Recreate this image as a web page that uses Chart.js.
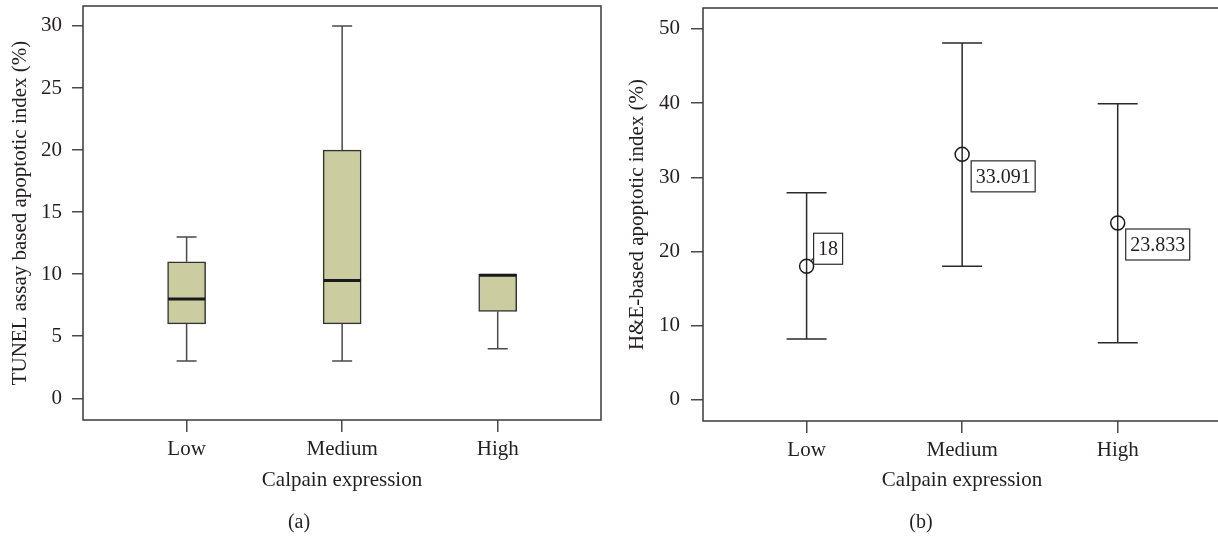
<!DOCTYPE html>
<html>
<head>
<meta charset="utf-8">
<script src="https://cdn.jsdelivr.net/npm/chart.js@4.4.1/dist/chart.umd.min.js"></script>
<style>
    html, body { margin: 0; padding: 0; background: #fff; overflow: hidden; }
    body { width: 1218px; height: 540px; position: relative; }
    canvas { position: absolute; top: 0; }
    #boxChart { left: 0; }
    #meanChart { left: 603px; }
    .caption { position: absolute; top: 510px; font: 20px 'Liberation Serif'; color: #231f20; transform: translateX(-50%); }
</style>
</head>
<body>
<canvas id="boxChart" width="603" height="540"></canvas>
<canvas id="meanChart" width="620" height="540"></canvas>
<div class="caption" style="left:299px">(a)</div>
<div class="caption" style="left:921px">(b)</div>
<script>
const categories = ['Low', 'Medium', 'High'];

// (a) TUNEL assay box plot
const tunelMin = [3, 3, 4];
const tunelQ1 = [6, 6, 7];
const tunelMedian = [8, 9.5, 10];
const tunelQ3 = [11, 20, 10];
const tunelMax = [13, 30, 10];
const tunelTicks = [0, 5, 10, 15, 20, 25, 30];

// (b) H&E mean with error bars
const heMean = [18, 33.091, 23.833];
const heLower = [8.2, 18.0, 7.7];
const heUpper = [27.9, 48.1, 39.9];
const heLabels = ['18', '33.091', '23.833'];
const heTicks = [0, 10, 20, 30, 40, 50];

const ink = '#231f20';
const lineGrey = '#4a4a4a';
Chart.defaults.font.family = "'Liberation Serif', 'DejaVu Serif', serif";
Chart.defaults.font.size = 21;
Chart.defaults.color = ink;

// frame round the plot area
const framePlugin = {
    id: 'frame',
    afterDraw(chart) {
        const {ctx, chartArea: a} = chart;
        ctx.save();
        ctx.strokeStyle = '#3a3a3a';
        ctx.lineWidth = 1.5;
        ctx.strokeRect(a.left, a.top, a.right - a.left, a.bottom - a.top);
        ctx.restore();
    }
};

// whiskers and medians for the box plot
const boxPlugin = {
    id: 'boxParts',
    beforeDatasetsDraw(chart) {
        const {ctx, scales: {x, y}} = chart;
        ctx.save();
        ctx.strokeStyle = lineGrey;
        ctx.lineWidth = 1.5;
        categories.forEach((c, i) => {
            const px = x.getPixelForValue(i);
            const segs = [[tunelQ3[i], tunelMax[i]], [tunelQ1[i], tunelMin[i]]];
            segs.forEach(([from, to]) => {
                if (from === to) return;
                ctx.beginPath();
                ctx.moveTo(px, y.getPixelForValue(from));
                ctx.lineTo(px, y.getPixelForValue(to));
                ctx.moveTo(px - 10, y.getPixelForValue(to));
                ctx.lineTo(px + 10, y.getPixelForValue(to));
                ctx.stroke();
            });
        });
        ctx.restore();
    },
    afterDatasetsDraw(chart) {
        const {ctx, scales: {x, y}} = chart;
        ctx.save();
        ctx.strokeStyle = '#1a1a1a';
        ctx.lineWidth = 3;
        categories.forEach((c, i) => {
            const px = x.getPixelForValue(i);
            let py = y.getPixelForValue(tunelMedian[i]);
            if (tunelMedian[i] === tunelQ3[i]) py += 1;
            ctx.beginPath();
            ctx.moveTo(px - 18.5, py);
            ctx.lineTo(px + 18.5, py);
            ctx.stroke();
        });
        ctx.restore();
    }
};

// error bars and value boxes for the means
const meanPlugin = {
    id: 'meanParts',
    beforeDatasetsDraw(chart) {
        const {ctx, scales: {x, y}} = chart;
        ctx.save();
        ctx.strokeStyle = '#2a2a2a';
        ctx.lineWidth = 1.5;
        categories.forEach((c, i) => {
            const px = x.getPixelForValue(i);
            const top = y.getPixelForValue(heUpper[i]);
            const bot = y.getPixelForValue(heLower[i]);
            ctx.beginPath();
            ctx.moveTo(px, top);
            ctx.lineTo(px, bot);
            ctx.moveTo(px - 20, top);
            ctx.lineTo(px + 20, top);
            ctx.moveTo(px - 20, bot);
            ctx.lineTo(px + 20, bot);
            ctx.stroke();
        });
        ctx.restore();
    },
    afterDatasetsDraw(chart, args, opts) {
        const {ctx, scales: {x, y}} = chart;
        ctx.save();
        ctx.font = "20px 'Liberation Serif'";
        ctx.textAlign = 'center';
        ctx.textBaseline = 'middle';
        ctx.strokeStyle = '#2a2a2a';
        ctx.lineWidth = 1.2;
        heLabels.forEach((txt, i) => {
            const px = x.getPixelForValue(i);
            const py = y.getPixelForValue(heMean[i]);
            const p = opts.place[i];
            const w = ctx.measureText(txt).width + 9;
            const h = 31;
            const bx = px + p.dx;
            const by = py + p.dy;
            ctx.fillStyle = '#fff';
            ctx.fillRect(bx, by, w, h);
            ctx.strokeRect(bx, by, w, h);
            if (p.leader) {
                ctx.beginPath();
                ctx.moveTo(px + 4, py - 5);
                ctx.lineTo(bx, by + h - 6);
                ctx.stroke();
            }
            ctx.fillStyle = ink;
            ctx.fillText(txt, bx + w / 2, by + h / 2 + 1);
        });
        ctx.restore();
    }
};

function fixedTicks(values) {
    return scale => { scale.ticks = values.map(v => ({value: v})); };
}

function axisOptions(cfg) {
    return {
        x: {
            type: 'linear',
            offset: false,
            min: -0.666,
            max: 2.664,
            afterBuildTicks: fixedTicks([0, 1, 2]),
            afterFit: s => { s.height = cfg.xHeight; s.paddingLeft = 0; s.paddingRight = 0; },
            ticks: { padding: 5, callback: v => categories[v] },
            grid: { offset: false, drawOnChartArea: false, drawTicks: true, tickLength: 12, color: lineGrey, lineWidth: 1.5 },
            border: { display: false },
            title: { display: true, text: 'Calpain expression', padding: { bottom: 47 } }
        },
        y: {
            min: cfg.yMin,
            max: cfg.yMax,
            afterBuildTicks: fixedTicks(cfg.ticks),
            afterFit: s => { s.width = cfg.yWidth; s.paddingTop = 0; s.paddingBottom = 0; },
            ticks: { padding: cfg.tickPad },
            grid: { drawOnChartArea: false, drawTicks: true, tickLength: cfg.tickLen, color: lineGrey, lineWidth: 1.5 },
            border: { display: false },
            title: { display: true, text: cfg.title, padding: { top: cfg.titlePad } }
        }
    };
}

new Chart(document.getElementById('boxChart'), {
    type: 'bar',
    data: {
        datasets: [{
            data: categories.map((c, i) => ({x: i, y: [tunelQ1[i], tunelQ3[i]]})),
            backgroundColor: '#cbcda0',
            borderColor: '#333333',
            borderWidth: 1.5,
            borderSkipped: false,
            barThickness: 38
        }]
    },
    options: {
        responsive: false,
        animation: false,
        layout: { autoPadding: false, padding: { top: 6, right: 2, left: 0, bottom: 0 } },
        scales: axisOptions({
            xHeight: 120, yMin: -1.75, yMax: 31.61, ticks: tunelTicks, yWidth: 83,
            tickPad: 10, tickLen: 11, titlePad: 8,
            title: 'TUNEL assay based apoptotic index (%)'
        }),
        plugins: { legend: { display: false }, tooltip: { enabled: false } }
    },
    plugins: [boxPlugin, framePlugin]
});

new Chart(document.getElementById('meanChart'), {
    type: 'scatter',
    data: {
        datasets: [{
            data: categories.map((c, i) => ({x: i, y: heMean[i]})),
            pointStyle: 'circle',
            pointRadius: 7,
            pointBackgroundColor: 'rgba(0,0,0,0)',
            pointBorderColor: '#1a1a1a',
            pointBorderWidth: 1.5
        }]
    },
    options: {
        responsive: false,
        animation: false,
        layout: { autoPadding: false, padding: { top: 8, right: 2, left: 0, bottom: 0 } },
        scales: axisOptions({
            xHeight: 119, yMin: -2.87, yMax: 52.83, ticks: heTicks, yWidth: 100,
            tickPad: 11, tickLen: 12, titlePad: 22,
            title: 'H&E-based apoptotic index (%)'
        }),
        plugins: {
            legend: { display: false },
            tooltip: { enabled: false },
            meanParts: {
                place: [
                    {dx: 7, dy: -33, leader: true},
                    {dx: 9, dy: 6.5},
                    {dx: 8, dy: 6}
                ]
            }
        }
    },
    plugins: [meanPlugin, framePlugin]
});
</script>
</body>
</html>
